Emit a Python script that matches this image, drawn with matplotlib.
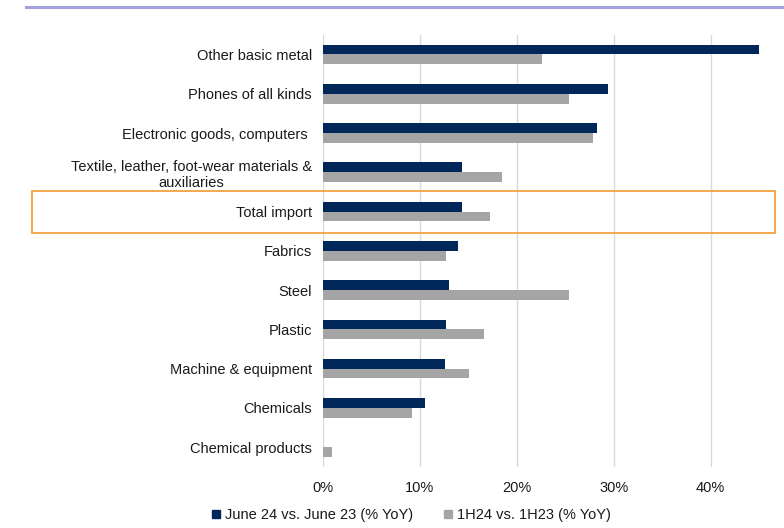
import matplotlib
matplotlib.use("Agg")
import matplotlib.pyplot as plt
import numpy as np
from matplotlib.lines import Line2D
from matplotlib.patches import Rectangle
from matplotlib.transforms import blended_transform_factory

plt.rcParams["font.family"] = ["Liberation Sans", "DejaVu Sans"]

# Import growth by item, % YoY
categories = [
    "Other basic metal",
    "Phones of all kinds",
    "Electronic goods, computers ",
    "Textile, leather, foot-wear materials &\nauxiliaries",
    "Total import",
    "Fabrics",
    "Steel",
    "Plastic",
    "Machine & equipment",
    "Chemicals",
    "Chemical products",
]
june_yoy = [45.0, 29.4, 28.3, 14.3, 14.3, 13.9, 13.0, 12.7, 12.6, 10.5, 0.0]
half_yoy = [22.6, 25.4, 27.9, 18.5, 17.25, 12.7, 25.4, 16.6, 15.1, 9.2, 0.9]
series_names = ["June 24 vs. June 23 (% YoY)", "1H24 vs. 1H23 (% YoY)"]
highlight = "Total import"

NAVY = "#00275a"
GRAY = "#a5a5a5"

fig = plt.figure(figsize=(7.84, 5.28), dpi=100)
ax = fig.add_axes([0.412, 0.116, 0.581, 0.818])

y = np.arange(len(categories))
h = 0.25
ax.barh(y - h / 2, june_yoy, height=h, color=NAVY, linewidth=0, zorder=3)
ax.barh(y + h / 2, half_yoy, height=h, color=GRAY, linewidth=0, zorder=3)

ax.set_ylim(len(categories) - 0.5, -0.5)
ax.set_xlim(0, 47)
ax.set_xticks([0, 10, 20, 30, 40])
ax.set_xticklabels([f"{t}%" for t in [0, 10, 20, 30, 40]])
ax.set_yticks(y)
ax.set_yticklabels(categories, multialignment="center")
ax.tick_params(axis="both", length=0, labelsize=10.5, colors="#1a1a1a")
ax.tick_params(axis="y", pad=8)
ax.tick_params(axis="x", pad=10)
ax.grid(axis="x", color="#d9d9d9", linewidth=1.0, zorder=0)
for s in ax.spines.values():
    s.set_visible(False)

# orange frame around the total row
idx = categories.index(highlight)
trans = blended_transform_factory(fig.transFigure, ax.transData)
ax.add_patch(Rectangle((0.041, idx - 0.53), 0.947, 1.07, transform=trans,
                       fill=False, edgecolor="#f4a13a", linewidth=1.3, clip_on=False, zorder=5))

# rule across the top
fig.add_artist(Line2D([0.033, 0.997], [0.987, 0.987], transform=fig.transFigure,
                      color="#a3a3db", linewidth=2.2))

handles = [
    Line2D([], [], marker="s", linestyle="none", markersize=6, color=NAVY),
    Line2D([], [], marker="s", linestyle="none", markersize=6, color=GRAY),
]
fig.legend(handles, series_names, loc="center", bbox_to_anchor=(0.524, 0.025), ncol=2,
           frameon=False, fontsize=10.5, handletextpad=0.2, columnspacing=2.0,
           handlelength=0.8, labelcolor="#1a1a1a")

fig.savefig("out.png", dpi=100)
